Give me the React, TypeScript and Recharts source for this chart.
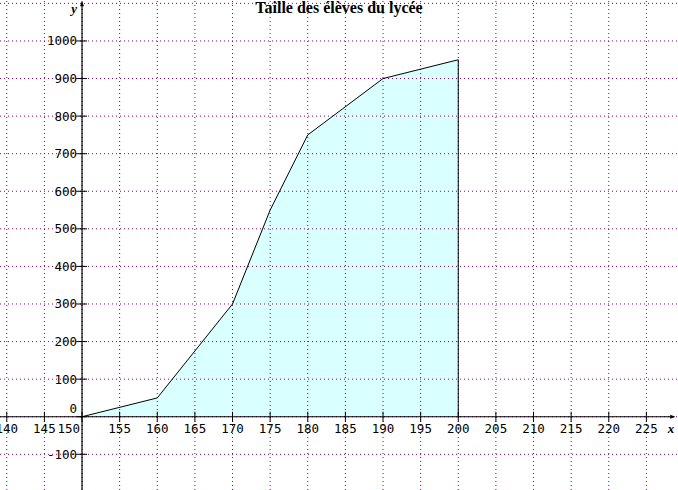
import React from 'react';
import { ComposedChart, Area, Line, XAxis, YAxis, ReferenceLine, ReferenceDot } from 'recharts';

// Taille (cm) et effectifs cumulés
const tailles = [150, 160, 170, 175, 180, 190, 200, 200];
const effectifs = [0, 50, 300, 550, 750, 900, 950, 0];

const xTicks = [140, 145, 150, 155, 160, 165, 170, 175, 180, 185, 190, 195, 200, 205, 210, 215, 220, 225];
const yTicks = [-100, 0, 100, 200, 300, 400, 500, 600, 700, 800, 900, 1000];
const yGrid = [-100, 0, 100, 200, 300, 400, 500, 600, 700, 800, 900, 1000, 1100];

const data = tailles.map((t, i) => ({ taille: t, effectif: effectifs[i] }));

const GRID = '#800080';
const FONT = '"DejaVu Sans Mono", monospace';

const YAxisShape = (p: any) => {
  const x = p.x1;
  const top = Math.min(p.y1, p.y2);
  const bottom = Math.max(p.y1, p.y2);
  return (
    <g>
      <line x1={x} y1={bottom} x2={x} y2={top} stroke="#000" strokeWidth={1.2} />
      <polygon points={`${x},${top - 1} ${x - 2},${top + 4} ${x + 2},${top + 4}`} fill="#000" />
      <text x={x - 5} y={top + 11} textAnchor="end" fontFamily='"Liberation Serif", serif' fontStyle="italic" fontWeight="bold" fontSize={13}>
        y
      </text>
    </g>
  );
};

const XAxisShape = (p: any) => {
  const y = p.y1;
  const left = Math.min(p.x1, p.x2);
  const right = Math.max(p.x1, p.x2);
  return (
    <g>
      <line x1={left} y1={y} x2={right} y2={y} stroke="#000" strokeWidth={1.2} />
      <polygon points={`${right + 1},${y} ${right - 4},${y - 2} ${right - 4},${y + 2}`} fill="#000" />
      <text x={right} y={y + 16} textAnchor="end" fontFamily='"Liberation Serif", serif' fontStyle="italic" fontWeight="bold" fontSize={13}>
        x
      </text>
    </g>
  );
};

const xTickLabel = (v: number) => (p: any) => {
  const cx = p.viewBox.x;
  const cy = p.viewBox.y;
  return (
    <g>
      <line x1={cx} y1={cy - 5} x2={cx} y2={cy + 5} stroke="#000" />
      <text
        x={v === 150 ? cx - 2 : cx}
        y={cy + 16}
        textAnchor={v === 150 ? 'end' : 'middle'}
        fontFamily={FONT}
        fontSize={12.5}
        fill="#000"
      >
        {v}
      </text>
    </g>
  );
};

const yTickLabel = (v: number) => (p: any) => {
  const cx = p.viewBox.x;
  const cy = p.viewBox.y;
  return (
    <g>
      <line x1={cx - 5} y1={cy} x2={cx + 5} y2={cy} stroke="#000" />
      <text x={cx - 5} y={v === 0 ? cy - 4 : cy + 4.5} textAnchor="end" fontFamily={FONT} fontSize={12.5} fill="#000">
        {v}
      </text>
    </g>
  );
};

export default function App() {
  return (
    <div style={{ position: 'absolute', left: 0, top: 0, width: 678, height: 490, background: '#fff' }}>
      <ComposedChart width={678} height={490} data={data} margin={{ top: 0, right: 0, bottom: 0, left: 0 }}>
        <XAxis dataKey="taille" type="number" domain={[139.1, 229.2]} allowDataOverflow hide />
        <YAxis type="number" domain={[-195, 1109]} allowDataOverflow hide />
        <Area
          type="linear"
          dataKey="effectif"
          baseValue={0}
          stroke="none"
          fill="#d9ffff"
          fillOpacity={1}
          isAnimationActive={false}
        />
        {xTicks.map((v) => (
          <ReferenceLine key={'gx' + v} x={v} stroke={GRID} strokeDasharray="1 3" />
        ))}
        {yGrid.map((v) => (
          <ReferenceLine key={'gy' + v} y={v} stroke={GRID} strokeDasharray="1 3" />
        ))}
        <ReferenceLine segment={[{ x: 150, y: -195 }, { x: 150, y: 1103 }]} shape={YAxisShape} />
        <ReferenceLine segment={[{ x: 139.1, y: 0 }, { x: 228.7, y: 0 }]} shape={XAxisShape} />
        {xTicks.map((v) => (
          <ReferenceDot key={'tx' + v} x={v} y={0} r={0} fill="none" stroke="none" label={xTickLabel(v)} />
        ))}
        {yTicks.map((v) => (
          <ReferenceDot key={'ty' + v} x={150} y={v} r={0} fill="none" stroke="none" label={yTickLabel(v)} />
        ))}
        <Line type="linear" dataKey="effectif" stroke="#000" strokeWidth={1} dot={false} isAnimationActive={false} />
      </ComposedChart>
      <div
        style={{
          position: 'absolute',
          top: -1,
          left: 0,
          width: 678,
          textAlign: 'center',
          fontFamily: '"Liberation Serif", serif',
          fontWeight: 'bold',
          fontSize: 16,
          lineHeight: '17px',
        }}
      >
        Taille des élèves du lycée
      </div>
    </div>
  );
}
